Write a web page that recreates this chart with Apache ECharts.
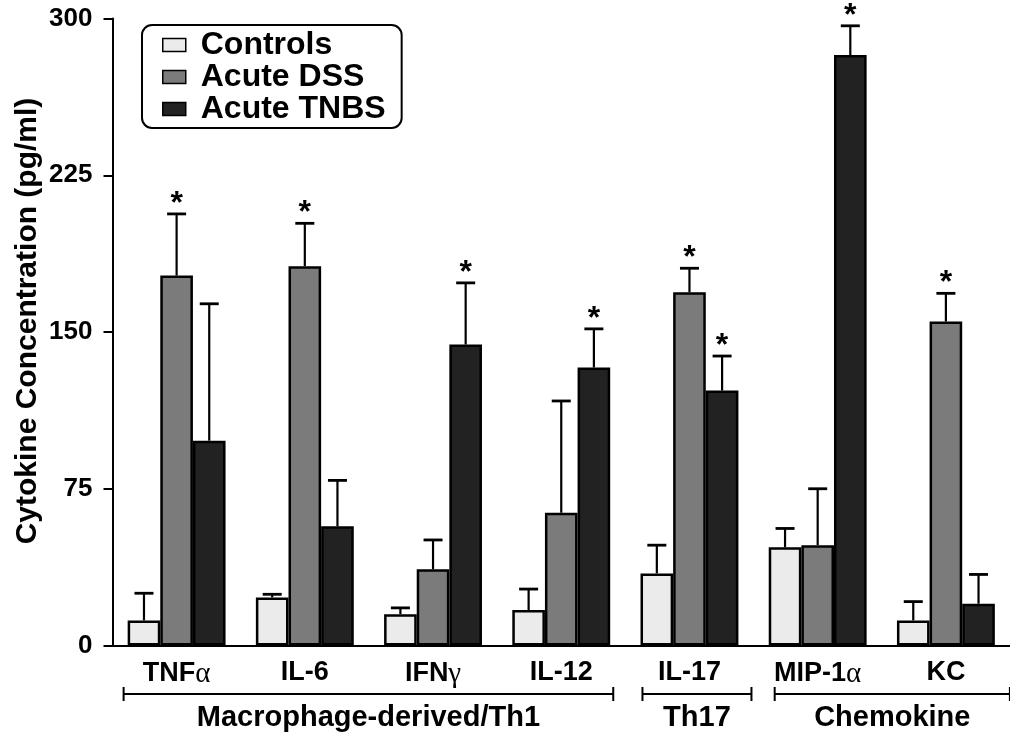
<!DOCTYPE html>
<html>
<head>
<meta charset="utf-8">
<script src="https://cdn.jsdelivr.net/npm/echarts@6/dist/echarts.min.js"></script>
<style>
  html, body { margin: 0; padding: 0; background: #fff; }
  #chart { width: 1010px; height: 738px; }
</style>
</head>
<body>
<div id="chart"></div>
<script>
// Cytokine levels (pg/ml), mean and SEM per group
const categories = ['TNFα', 'IL-6', 'IFNγ', 'IL-12', 'IL-17', 'MIP-1α', 'KC'];
const seriesNames = ['Controls', 'Acute DSS', 'Acute TNBS'];

const controls    = [12, 23, 15, 17, 34.5, 47, 12];
const controlsSem = [13, 1.5, 3, 10, 13.5, 9, 9];
const dss         = [177, 181.5, 36.5, 63.5, 169, 48, 155];
const dssSem      = [29.5, 20.5, 14, 53.5, 11.5, 27, 13.5];
const tnbs        = [98, 57, 144, 133, 122, 282.5, 20];
const tnbsSem     = [65.5, 22, 29.5, 18.5, 16.5, 14, 14];

// significance flags (asterisk above the error bar)
const controlsSig = [0, 0, 0, 0, 0, 0, 0];
const dssSig      = [1, 1, 0, 0, 1, 0, 1];
const tnbsSig     = [0, 0, 1, 1, 1, 1, 0];

const yTicks = [0, 75, 150, 225, 300];

// cytokine families shown under the axis
const groupNames = ['Macrophage-derived/Th1', 'Th17', 'Chemokine'];
const groupFirst = ['TNFα', 'IL-17', 'MIP-1α'];
const groupLast  = ['IL-12', 'IL-17', 'KC'];

// ---- styling ----
const FONT = '"Liberation Sans", Arial, Helvetica, sans-serif';
const FILLS = ['#ebebeb', '#7b7b7b', '#222222'];
const BAR_W = 0.2545;                 // bar width as fraction of category band
const BRACKET_PAD = [[53, 52], [47, 62], [43, 64]];
const BRACKET_Y = 694;
const GROUP_LABEL_Y = 718;

const chart = echarts.init(document.getElementById('chart'), null, { renderer: 'canvas' });

function barSeries(k, values) {
  return {
    type: 'bar',
    name: seriesNames[k],
    data: values,
    barWidth: (BAR_W * 100) + '%',
    barGap: '0%',
    itemStyle: { color: FILLS[k], borderColor: '#000', borderWidth: 2.5 },
    z: 2
  };
}

function errorSeries(k, means, sems, sig) {
  return {
    type: 'custom',
    name: seriesNames[k] + ' SEM',
    clip: false,
    z: 5,
    data: means.map((m, i) => [i, m, m + sems[i], sig[i]]),
    encode: { x: 0, y: [1, 2] },
    renderItem(params, api) {
      const i = api.value(0);
      const band = api.size([1, 0])[0];
      const cx = api.coord([i, 0])[0] + (k - 1) * band * BAR_W;
      const yb = api.coord([i, api.value(1)])[1];
      const yt = api.coord([i, api.value(2)])[1];
      const children = [
        { type: 'line', shape: { x1: cx, y1: yb, x2: cx, y2: yt },
          style: { stroke: '#000', lineWidth: 2.2 } },
        { type: 'line', shape: { x1: cx - 9.5, y1: yt, x2: cx + 9.5, y2: yt },
          style: { stroke: '#000', lineWidth: 2.8 } }
      ];
      if (api.value(3)) {
        children.push({
          type: 'text', x: cx, y: yt - 10,
          style: { text: '*', font: 'bold 32px ' + FONT, fill: '#000',
                   textAlign: 'center', textVerticalAlign: 'middle' }
        });
      }
      return { type: 'group', children };
    }
  };
}

const option = {
  animation: false,
  backgroundColor: '#fff',
  grid: { left: 112.5, right: -1, top: 18.5, bottom: 92.5, containLabel: false },
  legend: {
    data: seriesNames,
    orient: 'vertical',
    left: 142, top: 25,
    padding: [4, 16, 3, 20],
    backgroundColor: '#fff',
    borderColor: '#000', borderWidth: 2, borderRadius: 10,
    icon: 'rect',
    itemWidth: 23, itemHeight: 13, itemGap: 0,
    itemStyle: { borderColor: '#000', borderWidth: 1.5 },
    textStyle: { fontFamily: FONT, fontWeight: 'bold', fontSize: 32, color: '#000',
                 lineHeight: 31, padding: [0, 0, 0, 10] },
    selectedMode: false
  },
  xAxis: {
    type: 'category',
    data: categories,
    axisLine: { lineStyle: { color: '#000', width: 2 } },
    axisTick: { alignWithLabel: true, interval: 0, length: 8, lineStyle: { color: '#000', width: 2 } },
    axisLabel: {
      interval: 0,
      margin: 14,
      fontFamily: FONT, fontWeight: 'bold', fontSize: 27, color: '#000',
      formatter: v => v.replace(/([αγ])/g, '{g|$1}'),
      rich: { g: { fontFamily: '"Liberation Serif", "DejaVu Serif", serif', fontWeight: 'normal',
                   fontSize: 29, color: '#000' } }
    },
    splitLine: { show: false }
  },
  yAxis: {
    type: 'value',
    min: yTicks[0], max: yTicks[yTicks.length - 1], interval: yTicks[1] - yTicks[0],
    axisLine: { show: true, lineStyle: { color: '#000', width: 2 } },
    axisTick: { show: true, length: 9, lineStyle: { color: '#000', width: 2 } },
    axisLabel: { margin: 20, fontFamily: FONT, fontWeight: 'bold', fontSize: 26, color: '#000' },
    splitLine: { show: false }
  },
  series: [
    barSeries(0, controls), barSeries(1, dss), barSeries(2, tnbs),
    errorSeries(0, controls, controlsSem, controlsSig),
    errorSeries(1, dss, dssSem, dssSig),
    errorSeries(2, tnbs, tnbsSem, tnbsSig)
  ]
};

chart.setOption(option);

// axis title and family brackets
const gfx = [{
  type: 'text', x: 28, y: 321, rotation: Math.PI / 2,
  style: { text: 'Cytokine Concentration (pg/ml)', font: 'bold 30px ' + FONT, fill: '#000',
           textAlign: 'center', textVerticalAlign: 'middle' }
}];
groupNames.forEach((name, j) => {
  const x1 = chart.convertToPixel({ xAxisIndex: 0 }, groupFirst[j]) - BRACKET_PAD[j][0];
  const x2 = chart.convertToPixel({ xAxisIndex: 0 }, groupLast[j]) + BRACKET_PAD[j][1];
  const st = { stroke: '#000', lineWidth: 2 };
  gfx.push({ type: 'line', shape: { x1, y1: BRACKET_Y, x2, y2: BRACKET_Y }, style: st });
  gfx.push({ type: 'line', shape: { x1, y1: BRACKET_Y - 7, x2: x1, y2: BRACKET_Y + 7 }, style: st });
  gfx.push({ type: 'line', shape: { x1: x2, y1: BRACKET_Y - 7, x2, y2: BRACKET_Y + 7 }, style: st });
  gfx.push({
    type: 'text', x: (x1 + x2) / 2, y: GROUP_LABEL_Y,
    style: { text: name, font: 'bold 29px ' + FONT, fill: '#000',
             textAlign: 'center', textVerticalAlign: 'middle' }
  });
});
chart.setOption({ graphic: gfx });
</script>
</body>
</html>
